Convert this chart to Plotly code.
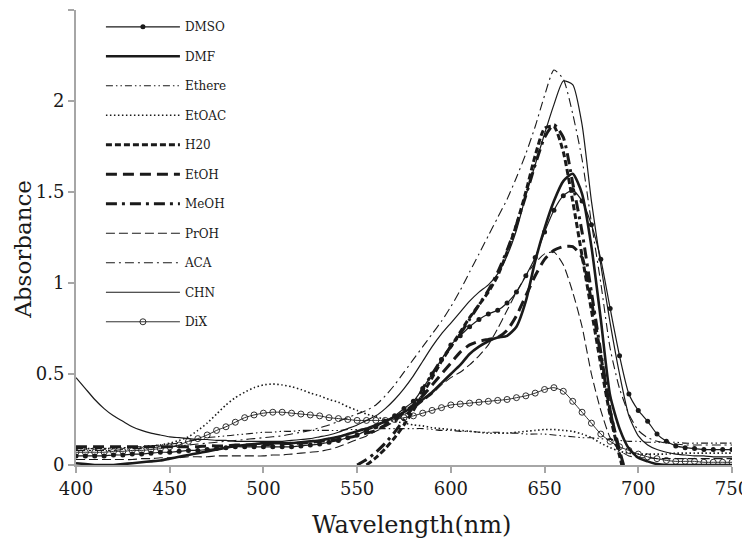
import plotly.graph_objects as go

WL = list(range(400, 751, 5))

DMSO = [0.05,0.05,0.05,0.05,0.055,0.055,0.06,0.06,0.065,0.07,0.07,0.075,0.08,0.08,0.085,0.09,0.095,0.1,0.1,0.1,
        0.1,0.1,0.1,0.1,0.105,0.11,0.115,0.125,0.135,0.15,0.165,0.19,0.21,0.24,0.27,0.31,0.35,0.42,0.5,0.58,
        0.66,0.71,0.76,0.8,0.83,0.85,0.89,0.95,1.04,1.14,1.28,1.4,1.48,1.51,1.45,1.32,1.13,0.86,0.6,0.39,
        0.3,0.24,0.17,0.13,0.105,0.095,0.09,0.085,0.085,0.085,0.085]
DMF = [0.01,0.005,0.0,0.0,0.0,0.005,0.01,0.015,0.02,0.025,0.035,0.045,0.055,0.065,0.075,0.085,0.095,0.105,0.11,0.115,
       0.12,0.12,0.12,0.12,0.125,0.13,0.135,0.145,0.155,0.17,0.185,0.2,0.22,0.24,0.265,0.29,0.32,0.36,0.4,0.45,
       0.5,0.55,0.61,0.65,0.68,0.7,0.71,0.76,0.9,1.12,1.3,1.45,1.56,1.6,1.49,1.2,0.8,0.38,0.2,0.09,
       0.04,0.02,0.005,0.0,0.0,0.0,0.0,0.0,0.0,0.0,0.0]
ETHERE = [0.09,0.09,0.09,0.09,0.095,0.095,0.1,0.1,0.105,0.11,0.115,0.12,0.13,0.14,0.15,0.155,0.16,0.165,0.17,0.175,
          0.18,0.18,0.185,0.185,0.19,0.19,0.19,0.19,0.19,0.195,0.195,0.2,0.2,0.2,0.2,0.2,0.2,0.2,0.195,0.19,
          0.19,0.185,0.185,0.18,0.18,0.18,0.175,0.175,0.17,0.17,0.17,0.165,0.16,0.155,0.15,0.15,0.145,0.14,0.135,0.13,
          0.13,0.125,0.125,0.125,0.125,0.12,0.12,0.12,0.12,0.12,0.12]
ETOAC = [0.09,0.09,0.09,0.09,0.09,0.095,0.095,0.1,0.105,0.11,0.12,0.135,0.155,0.19,0.23,0.28,0.33,0.37,0.4,0.425,
         0.44,0.445,0.44,0.43,0.415,0.395,0.38,0.36,0.345,0.32,0.3,0.28,0.265,0.25,0.24,0.23,0.22,0.215,0.205,0.2,
         0.195,0.19,0.185,0.18,0.175,0.175,0.175,0.18,0.185,0.19,0.195,0.195,0.19,0.185,0.17,0.15,0.12,0.095,0.075,0.065,
         0.06,0.06,0.06,0.06,0.065,0.065,0.065,0.065,0.065,0.065,0.065]
H2O = [None]*31 + [0.0,0.04,0.09,0.15,0.22,0.3,0.39,0.48,0.57,
       0.65,0.73,0.81,0.88,0.95,1.04,1.17,1.32,1.5,1.7,1.85,1.86,1.72,1.45,1.15,0.85,0.55,0.27,0.05,-0.15] + [None]*11
ETOH = [0.1,0.1,0.1,0.1,0.1,0.1,0.1,0.1,0.1,0.1,0.1,0.1,0.1,0.1,0.105,0.105,0.105,0.11,0.11,0.11,
        0.11,0.115,0.115,0.12,0.12,0.125,0.13,0.135,0.14,0.15,0.16,0.175,0.19,0.22,0.25,0.29,0.33,0.38,0.44,0.5,
        0.56,0.62,0.66,0.68,0.69,0.7,0.74,0.82,0.93,1.04,1.13,1.18,1.2,1.2,1.14,0.9,0.6,0.3,0.08,-0.1] + [None]*11
MEOH = [None]*30 + [0.0,0.03,0.07,0.12,0.18,0.25,0.32,0.42,0.5,0.58,
        0.65,0.72,0.8,0.88,0.96,1.06,1.18,1.32,1.48,1.65,1.8,1.87,1.8,1.55,1.28,0.95,0.62,0.3,0.06,-0.15] + [None]*11
PROH = [0.03,0.03,0.03,0.03,0.03,0.03,0.03,0.035,0.035,0.04,0.04,0.04,0.045,0.045,0.045,0.05,0.05,0.05,0.05,0.05,
        0.05,0.055,0.055,0.06,0.065,0.07,0.075,0.085,0.1,0.12,0.14,0.16,0.185,0.21,0.24,0.275,0.31,0.35,0.39,0.44,
        0.48,0.51,0.55,0.6,0.66,0.75,0.85,0.95,1.04,1.11,1.16,1.17,1.1,0.95,0.76,0.5,0.3,0.15,0.08,0.05,
        0.04,0.04,0.035,0.035,0.035,0.035,0.035,0.035,0.035,0.035,0.035]
ACA = [0.08,0.08,0.08,0.08,0.08,0.085,0.09,0.09,0.095,0.1,0.1,0.105,0.11,0.115,0.12,0.125,0.13,0.135,0.14,0.145,
       0.15,0.155,0.16,0.17,0.18,0.19,0.205,0.22,0.24,0.26,0.28,0.3,0.33,0.38,0.44,0.51,0.58,0.65,0.72,0.79,
       0.87,0.96,1.06,1.16,1.26,1.36,1.46,1.58,1.71,1.86,2.03,2.17,2.12,1.93,1.68,1.33,1.0,0.64,0.42,0.28,
       0.19,0.15,0.13,0.12,0.115,0.11,0.11,0.11,0.11,0.11,0.11]
CHN = [0.48,0.42,0.36,0.31,0.27,0.24,0.21,0.19,0.175,0.165,0.155,0.15,0.145,0.14,0.14,0.135,0.135,0.13,0.13,0.13,
       0.13,0.13,0.13,0.135,0.14,0.145,0.155,0.165,0.18,0.2,0.22,0.245,0.27,0.31,0.36,0.42,0.49,0.57,0.65,0.72,
       0.78,0.84,0.9,0.95,0.99,1.05,1.15,1.29,1.48,1.65,1.82,1.98,2.11,2.09,1.87,1.45,1.1,0.78,0.5,0.27,
       0.16,0.11,0.085,0.07,0.06,0.055,0.05,0.05,0.045,0.045,0.045]
DIX = [0.07,0.07,0.07,0.07,0.075,0.075,0.08,0.08,0.085,0.09,0.1,0.11,0.13,0.145,0.165,0.19,0.21,0.235,0.26,0.275,
       0.285,0.29,0.29,0.285,0.28,0.275,0.27,0.26,0.255,0.25,0.245,0.245,0.245,0.245,0.25,0.26,0.27,0.285,0.3,0.315,
       0.33,0.335,0.34,0.345,0.35,0.355,0.36,0.37,0.38,0.395,0.415,0.425,0.405,0.35,0.29,0.23,0.17,0.13,0.1,0.08,
       0.06,0.045,0.035,0.025,0.02,0.02,0.02,0.015,0.015,0.015,0.015]

X_TICKS = [400, 450, 500, 550, 600, 650, 700, 750]
Y_TICKS = [0, 0.5, 1, 1.5, 2, 2.5]
Y_TICK_TEXT = ["0", "0.5", "1", "1.5", "2", "2.5"]

INK = "#1a1a1a"
series = [
    ("DMSO", DMSO, dict(width=1.2, dash="solid"), dict(symbol="circle", size=5, color=INK)),
    ("DMF", DMF, dict(width=2.6, dash="solid"), None),
    ("Ethere", ETHERE, dict(width=1.1, dash="7px,3px,1.5px,3px,1.5px,3px"), None),
    ("EtOAC", ETOAC, dict(width=1.6, dash="1.5px,2.5px"), None),
    ("H20", H2O, dict(width=3, dash="6px,3px"), None),
    ("EtOH", ETOH, dict(width=3, dash="11px,6px"), None),
    ("MeOH", MEOH, dict(width=3, dash="11px,5px,3px,5px"), None),
    ("PrOH", PROH, dict(width=1.1, dash="9px,4px"), None),
    ("ACA", ACA, dict(width=1.1, dash="9px,4px,2px,4px"), None),
    ("CHN", CHN, dict(width=1.2, dash="solid"), None),
    ("DiX", DIX, dict(width=0.9, dash="solid"),
     dict(symbol="circle-open", size=6, color=INK, line=dict(width=0.9))),
]

fig = go.Figure()
for name, vals, line, marker in series:
    kw = dict(x=WL, y=vals, name=name,
              line=dict(shape="spline", smoothing=0.6, color=INK, **line),
              legendgroup=name, connectgaps=False)
    if marker:
        kw["mode"] = "lines+markers"
        kw["marker"] = marker
    else:
        kw["mode"] = "lines"
    fig.add_trace(go.Scatter(**kw))

SERIF = "DejaVu Serif"
# page body adds an 8px offset; the figure is sized so the plot lands where the reference has it
fig.update_layout(
    width=742, height=535,
    margin=dict(l=68, r=18, t=2, b=78),
    paper_bgcolor="white", plot_bgcolor="white",
    font=dict(family=SERIF, color=INK),
    showlegend=True,
    legend=dict(x=0.038, y=0.995, xanchor="left", yanchor="top",
                bgcolor="rgba(0,0,0,0)", font=dict(size=12, family=SERIF),
                tracegroupgap=10.5, traceorder="grouped", itemwidth=74),
    xaxis=dict(range=[400, 750], tickvals=X_TICKS, showgrid=False, zeroline=False,
               showline=True, linecolor="#a6a6a6", linewidth=2, automargin=False,
               ticks="outside", tickcolor="#a6a6a6", ticklen=6, tickwidth=2,
               tickfont=dict(size=18, family=SERIF)),
    yaxis=dict(range=[0, 2.5], tickvals=Y_TICKS, ticktext=Y_TICK_TEXT, showgrid=False, zeroline=False,
               showline=True, linecolor="#a6a6a6", linewidth=2, automargin=False,
               ticks="outside", tickcolor="#a6a6a6", ticklen=6, tickwidth=2,
               tickfont=dict(size=18, family=SERIF)),
    annotations=[
        dict(text="Wavelength(nm)", xref="paper", yref="paper", x=0.512, y=-0.132,
             xanchor="center", yanchor="middle", showarrow=False,
             font=dict(size=24, family=SERIF, color=INK)),
        dict(text="Absorbance", xref="paper", yref="paper", x=-0.081, y=0.475,
             xanchor="center", yanchor="middle", showarrow=False, textangle=-90,
             font=dict(size=23, family=SERIF, color=INK)),
    ],
)

fig.write_html("out.html")
